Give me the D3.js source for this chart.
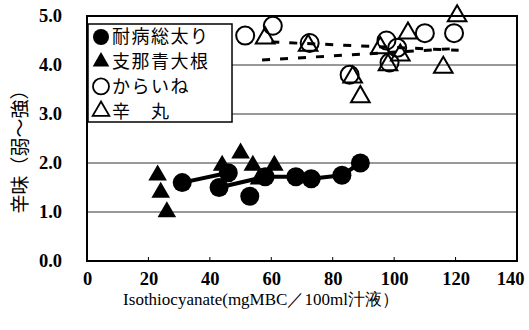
<!DOCTYPE html>
<html>
<head>
<meta charset="utf-8">
<script src="https://cdn.jsdelivr.net/npm/d3@7"></script>
<style>
  body { margin: 0; background: #fff; }
</style>
</head>
<body>
<div id="container"></div>
<script>
/* CONSTANTS AND GLOBALS */
const width = 529,
  height = 330,
  margin = {top: 16, bottom: 69, left: 87, right: 12};

/* DATA */
const seriesNames = ["耐病総太り", "支那青大根", "からいね", "辛　丸"];
const xTicks = [0, 20, 40, 60, 80, 100, 120, 140];
const yTicks = [0, 1, 2, 3, 4, 5];

// 耐病総太り (filled circles)
const taibyo = [[31, 1.6], [43, 1.5], [46, 1.8], [53, 1.32], [58, 1.72], [68, 1.72], [73, 1.68], [83, 1.75], [89, 2.0]];
const taibyoLines = [
  [[31, 1.6], [46, 1.8]],
  [[43, 1.5], [58, 1.72], [68, 1.72], [73, 1.68], [83, 1.75], [89, 2.0]]
];
// 支那青大根 (filled triangles)
const shina = [[23, 1.75], [24, 1.4], [26, 1.0], [44, 1.95], [50, 2.2], [54, 1.95], [56, 1.67], [61, 1.95]];
// からいね (open circles)
const karaine = [[51.5, 4.6], [60.5, 4.8], [72.5, 4.45], [85.5, 3.8], [97.5, 4.5], [98.5, 4.05], [101, 4.35], [110, 4.65], [119.5, 4.65]];
const karaineLine = [[60, 4.47], [121, 4.3]];
// 辛 丸 (open triangles)
const karamaru = [[58, 4.55], [72, 4.4], [86.5, 3.75], [89, 3.35], [95.5, 4.35], [98, 4.0], [102, 4.2], [104.5, 4.65], [116, 3.95], [120.5, 5.0]];
const karamaruLine = [[57, 4.1], [121, 4.34]];

// SCALES
const xScale = d3.scaleLinear()
  .domain([0, 140])
  .range([margin.left, width - margin.right]);

const yScale = d3.scaleLinear()
  .domain([0, 5])
  .range([height - margin.bottom, margin.top]);

// CREATE SVG ELEMENT
const svg = d3.select("#container")
  .append("svg")
  .attr("width", width)
  .attr("height", height)
  .style("background-color", "white");

// GRIDLINES
svg.selectAll(".grid")
  .data(yTicks.filter(d => d > 0 && d < 5))
  .join("line")
  .attr("class", "grid")
  .attr("x1", margin.left)
  .attr("x2", width - margin.right)
  .attr("y1", d => yScale(d))
  .attr("y2", d => yScale(d))
  .attr("stroke", "#333")
  .attr("stroke-width", 1);

// AXES
const xAxis = d3.axisBottom(xScale)
  .tickValues(xTicks)
  .tickSize(0)
  .tickPadding(11)
  .tickFormat(d3.format("d"));

const xAxisGroup = svg.append("g")
  .attr("transform", `translate(0, ${height - margin.bottom})`)
  .call(xAxis);

// last label sits a little left so it stays inside the page
xAxisGroup.selectAll("text")
  .attr("dx", d => d === 140 ? -7 : 0);

const yAxis = d3.axisLeft(yScale)
  .tickValues(yTicks)
  .tickSize(0)
  .tickPadding(25)
  .tickFormat(d3.format(".1f"));

const yAxisGroup = svg.append("g")
  .attr("transform", `translate(${margin.left}, 0)`)
  .call(yAxis);

[xAxisGroup, yAxisGroup].forEach(g => {
  g.select(".domain").remove();
  g.attr("font-family", null).attr("font-size", null);
  g.selectAll("text")
    .attr("fill", "#000")
    .style("font-family", "'Liberation Serif', 'Times New Roman', serif")
    .style("font-weight", "bold")
    .style("font-size", "18.5px");
});

// small inner ticks on the bottom axis
svg.selectAll(".xtick")
  .data(xTicks.slice(1, -1))
  .join("line")
  .attr("x1", d => xScale(d))
  .attr("x2", d => xScale(d))
  .attr("y1", yScale(0))
  .attr("y2", yScale(0) - 4)
  .attr("stroke", "#000");

// frame
svg.append("rect")
  .attr("x", margin.left)
  .attr("y", margin.top)
  .attr("width", width - margin.left - margin.right)
  .attr("height", height - margin.top - margin.bottom)
  .attr("fill", "none")
  .attr("stroke", "#000")
  .attr("stroke-width", 2);

// axis titles
svg.append("text")
  .attr("x", 261)
  .attr("y", 305)
  .attr("text-anchor", "middle")
  .style("font-family", "'Liberation Serif', serif")
  .style("font-size", "17px")
  .text("Isothiocyanate(mgMBC／100ml汁液）");

svg.append("text")
  .attr("transform", `translate(${27}, ${147}) rotate(-90)`)
  .attr("text-anchor", "middle")
  .style("font-family", "'Noto Sans CJK JP', sans-serif")
  .style("font-size", "19px")
  .text("辛味（弱～強）");

// LINES
const lineGen = d3.line()
  .x(d => xScale(d[0]))
  .y(d => yScale(d[1]));

svg.selectAll(".solid")
  .data(taibyoLines)
  .join("path")
  .attr("fill", "none")
  .attr("stroke", "#000")
  .attr("stroke-width", 4)
  .attr("d", d => lineGen(d));

svg.selectAll(".dash")
  .data([karaineLine, karamaruLine])
  .join("path")
  .attr("fill", "none")
  .attr("stroke", "#000")
  .attr("stroke-width", 3)
  .attr("stroke-dasharray", "8,10")
  .attr("d", d => lineGen(d));

// MARKERS
const tri = d3.symbol().type(d3.symbolTriangle).size(150);

svg.selectAll(".taibyo")
  .data(taibyo)
  .join("circle")
  .attr("cx", d => xScale(d[0]))
  .attr("cy", d => yScale(d[1]))
  .attr("r", 9.5)
  .attr("fill", "#000");

svg.selectAll(".shina")
  .data(shina)
  .join("path")
  .attr("transform", d => `translate(${xScale(d[0])}, ${yScale(d[1])})`)
  .attr("d", tri)
  .attr("fill", "#000");

svg.selectAll(".karaine")
  .data(karaine)
  .join("circle")
  .attr("cx", d => xScale(d[0]))
  .attr("cy", d => yScale(d[1]))
  .attr("r", 9)
  .attr("fill", "none")
  .attr("stroke", "#000")
  .attr("stroke-width", 2);

svg.selectAll(".karamaru")
  .data(karamaru)
  .join("path")
  .attr("transform", d => `translate(${xScale(d[0])}, ${yScale(d[1])})`)
  .attr("d", tri)
  .attr("fill", "none")
  .attr("stroke", "#000")
  .attr("stroke-width", 2);

// LEGEND
const legend = svg.append("g");
legend.append("rect")
  .attr("x", 88)
  .attr("y", 24)
  .attr("width", 144)
  .attr("height", 98)
  .attr("fill", "#fff")
  .attr("stroke", "#000")
  .attr("stroke-width", 1.5);

const legendItems = legend.selectAll(".item")
  .data(seriesNames)
  .join("g")
  .attr("transform", (d, i) => `translate(101, ${37 + i * 24.7})`);

legendItems.each(function(d, i) {
  const g = d3.select(this);
  if (i === 0 || i === 2) {
    g.append("circle").attr("r", 8)
      .attr("fill", i === 0 ? "#000" : "none")
      .attr("stroke", "#000").attr("stroke-width", i === 0 ? 0 : 1.8);
  } else {
    g.append("path").attr("d", d3.symbol().type(d3.symbolTriangle).size(120))
      .attr("fill", i === 1 ? "#000" : "none")
      .attr("stroke", "#000").attr("stroke-width", i === 1 ? 0 : 1.8);
  }
  g.append("text")
    .attr("x", 11)
    .attr("dy", "0.36em")
    .style("font-family", "'Noto Sans CJK JP', sans-serif")
    .style("font-size", "18px")
    .style("letter-spacing", "1.5px")
    .text(d);
});
</script>
</body>
</html>
